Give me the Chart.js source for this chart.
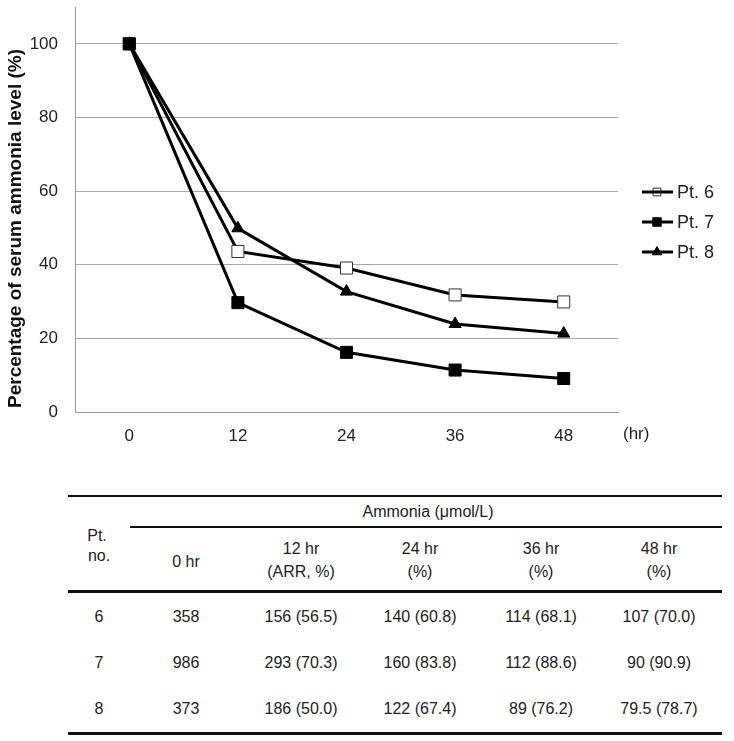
<!DOCTYPE html>
<html>
<head>
<meta charset="utf-8">
<script src="https://cdn.jsdelivr.net/npm/chart.js@4.4.1/dist/chart.umd.min.js"></script>
<style>
  body { margin: 0; background: #fff; width: 734px; height: 741px; position: relative; overflow: hidden;
         font-family: "Liberation Sans", Arial, sans-serif; color: #222; }
  #chartBox { position: absolute; left: 0; top: 0; width: 734px; height: 460px; }
  .rule { position: absolute; background: #111; }
  .cell { position: absolute; transform: translate(-50%, -50%); font-size: 16px; line-height: 1; white-space: nowrap; }
</style>
</head>
<body>
<div id="chartBox"><canvas id="lineChart" width="734" height="460"></canvas></div>
<div id="table"></div>
<script>
// chart data
const hours = ['0', '12', '24', '36', '48'];
const pt6 = [100, 43.6, 39.1, 31.8, 29.9];
const pt7 = [100, 29.7, 16.2, 11.4, 9.1];
const pt8 = [100, 49.9, 32.7, 23.9, 21.3];
const yTicks = [0, 20, 40, 60, 80, 100];
const yTitle = 'Percentage of serum ammonia level (%)';

// table data
const tableHeads = ['0 hr', '12 hr', '24 hr', '36 hr', '48 hr'];
const tableSubs = ['', '(ARR, %)', '(%)', '(%)', '(%)'];
const ptNos = ['6', '7', '8'];
const hr0 = ['358', '986', '373'];
const hr12 = ['156 (56.5)', '293 (70.3)', '186 (50.0)'];
const hr24 = ['140 (60.8)', '160 (83.8)', '122 (67.4)'];
const hr36 = ['114 (68.1)', '112 (88.6)', '89 (76.2)'];
const hr48 = ['107 (70.0)', '90 (90.9)', '79.5 (78.7)'];

const FONT = '"Liberation Sans", Arial, sans-serif';

// y title, legend on the right and "(hr)" unit label
const extras = {
  id: 'extras',
  afterDraw(chart) {
    const ctx = chart.ctx, area = chart.chartArea;
    ctx.save();
    ctx.fillStyle = '#111';
    ctx.font = 'bold 19px ' + FONT;
    ctx.textAlign = 'center';
    ctx.textBaseline = 'middle';
    ctx.translate(16, area.top + (area.bottom - area.top) / 2 + 19);
    ctx.rotate(-Math.PI / 2);
    ctx.fillText(yTitle, 0, 0);
    ctx.restore();

    ctx.save();
    ctx.fillStyle = '#222';
    ctx.font = '17px ' + FONT;
    ctx.textBaseline = 'middle';
    ctx.textAlign = 'left';
    ctx.fillText('(hr)', area.right + 5, area.bottom + 22);

    const x0 = area.right + 24, y0 = 192;
    chart.data.datasets.forEach(function (ds, i) {
      const y = y0 + i * 30;
      ctx.fillStyle = ds.pointBackgroundColor;
      ctx.strokeStyle = ds.pointBorderColor;
      ctx.lineWidth = 1;
      Chart.helpers.drawPoint(ctx, { pointStyle: ds.pointStyle, radius: ds.legendRadius, borderWidth: 1 }, x0 + 15, y);
      ctx.strokeStyle = '#000';
      ctx.lineWidth = 3;
      ctx.beginPath();
      ctx.moveTo(x0, y);
      ctx.lineTo(x0 + 31, y);
      ctx.stroke();
      ctx.fillStyle = '#222';
      ctx.font = '18px ' + FONT;
      ctx.fillText(ds.label, x0 + 35, y + 1);
    });
    ctx.restore();
  }
};

const datasets = [
  { label: 'Pt. 6', data: pt6, pointStyle: 'rect', pointRadius: 8.5, legendRadius: 5.5,
    pointBackgroundColor: '#fff', pointBorderColor: '#333', pointBorderWidth: 1, order: 1 },
  { label: 'Pt. 7', data: pt7, pointStyle: 'rect', pointRadius: 8.5, legendRadius: 6,
    pointBackgroundColor: '#000', pointBorderColor: '#000', pointBorderWidth: 1, order: 0 },
  { label: 'Pt. 8', data: pt8, pointStyle: 'triangle', pointRadius: 7, legendRadius: 5.5,
    pointBackgroundColor: '#000', pointBorderColor: '#000', pointBorderWidth: 1, order: 2 }
];
datasets.forEach(function (d) {
  d.borderColor = '#000';
  d.borderWidth = 3;
  d.tension = 0;
  d.fill = false;
  d.clip = false;
});

new Chart(document.getElementById('lineChart').getContext('2d'), {
  type: 'line',
  data: { labels: hours, datasets: datasets },
  options: {
    responsive: false,
    animation: false,
    layout: { autoPadding: false, padding: { left: 0, top: 7, right: 116, bottom: 0 } },
    plugins: { legend: { display: false }, tooltip: { enabled: false } },
    scales: {
      x: {
        offset: true,
        grid: { display: false },
        border: { color: '#999', width: 1 },
        ticks: { color: '#222', font: { size: 17, family: FONT }, padding: 6 },
        afterFit: function (s) { s.height = 48; s.paddingLeft = 0; s.paddingRight = 0; }
      },
      y: {
        min: 0,
        max: 110,
        afterBuildTicks: function (s) { s.ticks = yTicks.map(function (v) { return { value: v }; }); },
        grid: { color: '#a6a6a6', lineWidth: 1, drawTicks: false },
        border: { color: '#999', width: 1 },
        ticks: { color: '#222', font: { size: 17, family: FONT }, padding: 17 },
        afterFit: function (s) { s.width = 75; s.paddingTop = 0; s.paddingBottom = 0; }
      }
    }
  },
  plugins: [extras]
});

// table below the chart
const tbl = document.getElementById('table');
function rule(x, y, w, h) {
  const d = document.createElement('div');
  d.className = 'rule';
  d.style.left = x + 'px'; d.style.top = y + 'px';
  d.style.width = w + 'px'; d.style.height = h + 'px';
  tbl.appendChild(d);
}
function cell(text, x, y) {
  const s = document.createElement('span');
  s.className = 'cell';
  s.textContent = text;
  s.style.left = x + 'px'; s.style.top = y + 'px';
  tbl.appendChild(s);
}
const colX = [99, 186, 301, 420, 541, 659];
const rowY = [617, 663, 709];

rule(68, 495, 654, 2);
rule(130, 526, 592, 2);
rule(68, 590, 654, 3);
rule(68, 732, 654, 3);

cell('Ammonia (\u03bcmol/L)', 428, 512);
cell('Pt.', 97, 536);
cell('no.', 99, 556);
tableHeads.forEach(function (h, i) {
  if (tableSubs[i]) {
    cell(h, colX[i + 1], 549);
    cell(tableSubs[i], colX[i + 1], 572);
  } else {
    cell(h, colX[i + 1], 562);
  }
});
const cols = [ptNos, hr0, hr12, hr24, hr36, hr48];
cols.forEach(function (col, c) {
  col.forEach(function (v, r) {
    cell(v, colX[c], rowY[r]);
  });
});
</script>
</body>
</html>
